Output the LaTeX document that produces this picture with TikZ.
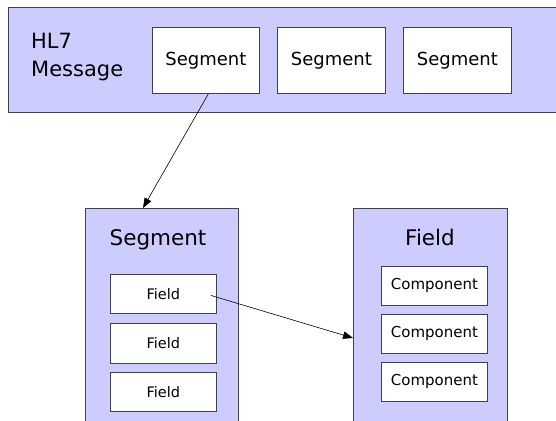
\documentclass[tikz,border=0pt]{standalone}
\usepackage{fontspec}
\setmainfont{DejaVu Sans}
\usetikzlibrary{arrows.meta,calc}
\definecolor{lav}{RGB}{204,204,255}
\definecolor{edge}{RGB}{64,64,84}
\begin{document}
\begin{tikzpicture}[x=1pt,y=-1pt,
  panel/.style={draw=edge, fill=lav, line width=0.8pt, anchor=north west, inner sep=0pt},
  cell/.style={draw=edge, fill=white, line width=0.8pt, anchor=north west, inner sep=0pt,
    minimum width=106pt, minimum height=39pt},
  bigcell/.style={cell, minimum width=107pt, minimum height=66pt, font=\fontsize{18}{22}\selectfont},
  title/.style={anchor=base, inner sep=0pt, font=\fontsize{21.5}{26}\selectfont},
  link/.style={-{Triangle[length=10pt,width=7.5pt]}, line width=0.6pt, draw=black}
]
\useasboundingbox (0,0) rectangle (556,420);
\clip (0,0) rectangle (556,420);

% HL7 message with its segments
\node[panel, minimum width=560pt, minimum height=105pt] (msg) at (8,7) {};
\node[anchor=base west, align=left, inner sep=0pt, font=\fontsize{21}{28}\selectfont] (msgname) at (31,76) {HL7\\Message};
\node[bigcell] (s1) at (152,27) {Segment};
\node[bigcell, minimum width=108pt] (s2) at (277,27) {Segment};
\node[bigcell, minimum width=108pt] (s3) at (403,27) {Segment};

% one segment, made of fields
\node[panel, minimum width=153pt, minimum height=220pt] (segp) at (85,208) {};
\node[title] (segtitle) at (158,245) {Segment};
\node[cell, font=\fontsize{14.5}{18}\selectfont] (f1) at (110,274) {Field};
\node[cell, minimum height=40pt, font=\fontsize{14.5}{18}\selectfont] (f2) at (110,323) {Field};
\node[cell, font=\fontsize{14.5}{18}\selectfont] (f3) at (110,372) {Field};

% one field, made of components
\node[panel, minimum width=154pt, minimum height=220pt] (fldp) at (353,208) {};
\node[title] (fldtitle) at (430,245) {Field};
\node[cell, font=\fontsize{15}{18}\selectfont] (c1) at (381,266) {Component};
\node[cell, font=\fontsize{15}{18}\selectfont] (c2) at (381,314) {Component};
\node[cell, font=\fontsize{15}{18}\selectfont] (c3) at (381,362) {Component};

% connectors
\coordinate (segfrom) at ($(s1.south)+(2.5,0)$);
\coordinate (segto) at ($(segp.north west)+(58,0)$);
\coordinate (fldfrom) at ($(f1.east)+(-6,1.5)$);
\coordinate (fldto) at ($(fldp.north west)+(0,130)$);
\draw[link] (segfrom) -- (segto);
\draw[link] (fldfrom) -- (fldto);
\end{tikzpicture}
\end{document}
